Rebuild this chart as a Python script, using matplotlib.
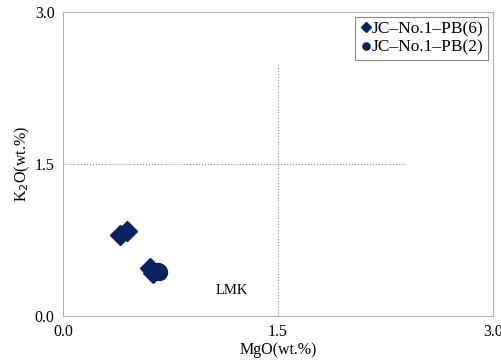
import matplotlib.pyplot as plt

mgo_pb6 = [0.40, 0.45, 0.61, 0.63]
k2o_pb6 = [0.80, 0.84, 0.47, 0.42]
mgo_pb2 = [0.66, 0.67]
k2o_pb2 = [0.44, 0.43]
ticks = [0.0, 1.5, 3.0]
tick_labels = ["0.0", "1.5", "3.0"]

navy = "#0b2260"
plt.rcParams['font.family'] = ['Liberation Serif', 'DejaVu Serif']

fig = plt.figure(figsize=(5.01, 3.61), dpi=100)
ax = fig.add_axes([0.1257, 0.1247, 0.858, 0.842])

ax.plot(mgo_pb6, k2o_pb6, 'D', color=navy, markersize=10.5, linestyle='none', label='JC\u2013No.1\u2013PB(6)')
ax.plot(mgo_pb2, k2o_pb2, 'o', color=navy, markersize=11.5, linestyle='none', label='JC\u2013No.1\u2013PB(2)')

# dividing lines
ax.plot([0.0, 2.39], [1.5, 1.5], ':', color='#888888', linewidth=0.8)
ax.plot([1.5, 1.5], [0.0, 2.48], ':', color='#888888', linewidth=0.8)
ax.text(1.18, 0.25, 'LMK', fontsize=10.5, ha='center', va='center')

ax.set_xlim(0, 3)
ax.set_ylim(0, 3)
ax.set_xticks(ticks)
ax.set_xticklabels(tick_labels, fontsize=11.5)
ax.set_yticks(ticks)
ax.set_yticklabels(tick_labels, fontsize=11.5)
ax.tick_params(length=0, pad=6)
for s in ax.spines.values():
    s.set_color('#b0b0b0')
ax.set_xlabel('MgO(wt.%)', fontsize=11.5, labelpad=1)
ax.set_ylabel('K$_2$O(wt.%)', fontsize=11.5, labelpad=2)

leg = ax.legend(loc='upper right', markerscale=0.45, fontsize=12.5, handletextpad=0.0,
                handlelength=0.7, borderpad=0.25, labelspacing=0.15, fancybox=False,
                edgecolor='#888888', framealpha=1, bbox_to_anchor=(0.988, 0.985),
                borderaxespad=0)
leg.get_frame().set_linewidth(0.8)

plt.savefig("out.png")
